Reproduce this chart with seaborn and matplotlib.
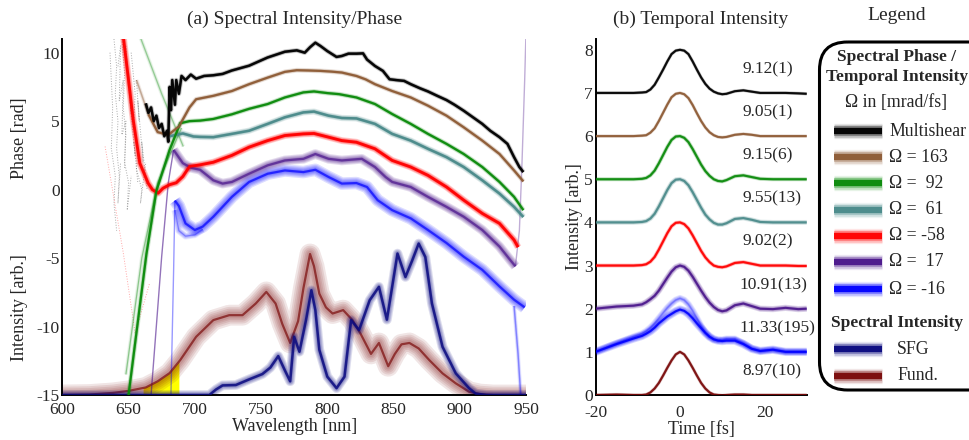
import numpy as np
import pandas as pd
import seaborn as sns
import matplotlib
matplotlib.use('Agg')
import matplotlib.pyplot as plt
from matplotlib.patches import FancyBboxPatch

sns.set_style('white')
plt.rcParams['font.family'] = ['Liberation Serif', 'DejaVu Serif']
plt.rcParams['axes.unicode_minus'] = False

# %% Spectral phase curves (wavelength [nm], phase [rad])
black_wl = [663, 665, 667, 669, 671, 673, 675, 677, 679, 680, 681, 682, 683, 685, 686, 688, 690,
            693, 697, 701, 707, 714, 721, 728, 741, 755, 768, 777, 783, 787, 791, 795, 800, 807,
            811, 816, 822, 827, 830, 836, 842, 847, 852, 858, 863, 870, 876, 883, 890, 896, 903,
            910, 917, 923, 930, 936, 941, 945, 948]
black_ph = [6.3, 5.6, 6.0, 5.0, 5.4, 4.5, 4.8, 3.9, 4.3, 3.5, 7.5, 5.8, 8.0, 6.2, 8.0, 7.0, 8.3,
            8.0, 8.4, 8.1, 8.3, 8.35, 8.45, 8.7, 9.05, 9.65, 10.07, 10.17, 10.0, 10.4, 10.73, 10.48,
            10.12, 9.69, 9.76, 9.93, 9.93, 9.95, 9.5, 9.03, 8.67, 8.06, 8.0, 7.94, 7.7, 7.4, 7.17,
            6.85, 6.54, 6.2, 5.76, 5.28, 4.8, 4.3, 3.83, 3.34, 2.37, 1.65, 1.28]

brown_wl = [665, 672, 680, 688, 696, 701, 714, 728, 741, 755, 768, 777, 786, 795, 803, 811,
            822, 829, 836, 849, 863, 876, 890, 903, 917, 930, 941, 948]
brown_ph = [5.5, 4.2, 4.0, 4.6, 6.0, 6.6, 6.85, 7.2, 7.7, 8.18, 8.6, 8.72, 8.7, 8.67, 8.62,
            8.55, 8.3, 8.05, 7.7, 7.2, 6.73, 6.13, 5.4, 4.55, 3.58, 2.6, 1.4, 0.6]
brown_faint_wl = [656, 665]
brown_faint_ph = [8.0, 5.5]

green_wl = [650, 663.5, 671, 681, 689, 696, 704, 714, 728, 741, 755, 768, 782, 790, 800, 809, 822,
            836, 849, 863, 876, 890, 903, 917, 930, 941, 948]
green_ph = [-15, -4.7, -0.1, 2.9, 4.85, 5.0, 5.04, 5.16, 5.5, 5.9, 6.25, 6.73, 7.1, 7.17, 7.05,
            6.97, 6.73, 6.25, 5.52, 4.8, 4.07, 3.34, 2.6, 1.65, 0.56, -0.53, -1.5]

teal_wl = [681, 691, 699, 704, 714, 728, 741, 755, 768, 782, 790, 801, 811, 822, 836, 849, 863,
           876, 890, 903, 917, 930, 941, 948]
teal_ph = [3.9, 4.1, 3.88, 3.85, 3.83, 4.07, 4.3, 4.8, 5.28, 5.64, 5.7, 5.4, 5.23, 5.2, 4.8, 4.07,
           3.58, 2.98, 2.37, 1.65, 0.68, -0.29, -1.26, -2.0]

red_wl = [645, 646, 650, 653.5, 658.5, 664.8, 668, 672.3, 676, 681, 686, 691, 696, 704, 714, 728,
          741, 755, 768, 782, 790, 801, 811, 822, 836, 849, 863, 876, 890, 903, 917, 930, 941, 944]
red_ph = [11.5, 11.2, 8.0, 5.1, 1.93, 0.47, 0.0, -0.26, 0.1, 0.36, 0.5, 0.96, 1.69, 1.81, 2.0, 2.5,
          3.1, 3.58, 3.95, 4.07, 4.1, 3.83, 3.58, 3.46, 2.98, 2.13, 1.65, 1.04, 0.19, -0.77, -1.74,
          -2.47, -3.68, -4.2]

purple_wl = [684, 691, 697, 704, 714, 721, 728, 741, 755, 768, 782, 791, 801, 811, 826, 836, 844,
             849, 863, 876, 890, 903, 917, 930, 938, 942]
purple_ph = [2.9, 1.93, 1.6, 1.45, 0.68, 0.44, 0.56, 1.16, 1.77, 2.13, 2.25, 2.6, 2.25, 2.13, 2.25,
             1.65, 0.92, 0.56, 0.19, -0.53, -1.26, -1.98, -2.95, -4.16, -5.13, -5.6]
purple_tail_wl = [942, 945, 947, 949, 950]
purple_tail_ph = [-5.6, -3.0, 2.0, 8.0, 11.5]

blue_wl = [685, 688, 693, 700, 706, 714, 728, 741, 755, 768, 782, 791, 801, 811, 822, 830, 838,
           849, 863, 876, 890, 903, 917, 930, 941, 949]
blue_ph = [-0.8, -1.2, -2.47, -2.95, -2.7, -1.98, -0.53, 0.56, 1.16, 1.4, 1.28, 1.45, 0.92, 0.44,
           0.48, 0.19, -0.77, -1.5, -2.1, -2.95, -3.9, -4.9, -5.86, -7.07, -8.04, -8.6]
blue_spread_wl = [685, 688, 693, 700, 706]
blue_spread_ph = [-1.5, -3.0, -3.4, -3.3, -2.9]

# faint extrapolated / noisy traces
steep_purple_wl = [667, 675, 680, 684]
steep_purple_ph = [-15, -4.9, 0.5, 2.9]
steep_blue_wl = [682, 684, 685]
steep_blue_ph = [-15, -6, -0.8]
tail_blue_wl = [941, 944, 946]
tail_blue_ph = [-8.5, -12, -15]
faint_green_wl = [648, 660, 672, 690]
faint_green_ph = [-13.5, -5, 0.5, 4.5]
faint_green2_wl = [658.6, 675, 691.3]
faint_green2_ph = [11.2, 7.0, 3.15]
faint_red_wl = [632.3, 646, 655, 666]
faint_red_ph = [3.15, -4.6, -10.5, -6.8]
noise_wl = [[639, 641, 640, 642, 641, 643, 642, 644],
            [645, 647, 646, 648, 647, 650, 649, 652],
            [652, 655, 654, 657, 656, 660, 659, 663],
            [636, 638, 637, 640, 639, 641],
            [642, 644, 643, 646, 645, 648, 647],
            [648, 650, 649, 652, 651, 655, 654, 657],
            [656, 658, 657, 661, 660, 664]]
noise_ph = [[11, 9, 7, 5, 3, 1, -1, 2],
            [11, 8.5, 6, 4, 2, 0.5, -1.5, 1],
            [10, 7, 5, 3, 1.5, 0, -1, 2],
            [10, 6, 3, 1, -1, -3],
            [9, 10.5, 6.5, 8, 4, 5, 1.5],
            [10.5, 7.5, 9, 5.5, 6.5, 2.5, 3.5, 0.5],
            [8, 5, 6.5, 2, 3.5, 0]]

# %% Spectral intensities (plotted on the same axis, baseline -15)
fund_wl = [600, 620, 638, 650, 663, 672, 681, 689, 701, 714, 726, 736, 746, 754, 761, 766, 772,
           778, 782, 787, 790, 794, 799, 804, 812, 819, 825, 833, 839, 846, 851, 856, 862, 869,
           877, 887, 897, 907, 915, 925, 950]
fund_int = [-15, -14.97, -14.85, -14.7, -14.45, -14.0, -13.4, -12.45, -10.75, -9.53, -9.17, -9.17,
            -8.32, -7.47, -8.32, -9.8, -11.2, -9.6, -7.2, -4.7, -5.6, -7.6, -8.6, -9.05, -8.8,
            -9.53, -10.5, -12.0, -11.2, -12.9, -12.0, -11.3, -11.2, -11.6, -12.45, -13.42, -14.15,
            -14.76, -14.93, -15, -15]
sfg_wl = [600, 705, 711, 716, 721, 731, 741, 751, 757, 763, 768, 772, 775, 779, 784, 788, 791,
          794, 800, 807, 813, 818, 824, 832, 839, 845, 853, 859, 864, 869, 874, 879, 887, 897,
          907, 912, 920, 950]
sfg_int = [-15, -15, -15, -14.6, -14.3, -14.27, -13.86, -13.47, -13.0, -12.16, -13.2, -14.0,
           -10.75, -11.84, -9.5, -7.35, -8.8, -11.7, -13.66, -14.5, -13.66, -9.53, -10.26, -8.08,
           -7.1, -9.5, -4.67, -6.38, -5.2, -3.94, -4.92, -8.32, -11.48, -13.42, -14.5, -14.9,
           -15, -15]
yellow_wl = [661, 672, 681, 688]
yellow_top = [-14.5, -14.0, -13.4, -12.55]

# %% Temporal intensities
t_fs = [-20, -15, -11, -9, -8, -7, -6, -5, -4, -3, -2, -1, 0, 1, 2, 3, 4, 5, 6, 7, 8, 9, 10, 11,
        13, 15, 17, 19, 22, 25, 28, 30]
prof_black = [0, 0, 0, 0.01, 0.02, 0.08, 0.19, 0.36, 0.54, 0.73, 0.9, 0.98, 1.0, 0.98, 0.9, 0.73,
              0.54, 0.36, 0.21, 0.1, 0.03, -0.01, -0.03, -0.02, 0.04, 0.06, 0.03, 0.0, 0.0, 0.0,
              -0.01, -0.02]
prof_brown = [0, 0, 0, 0.01, 0.02, 0.08, 0.18, 0.35, 0.54, 0.73, 0.9, 0.98, 1.0, 0.97, 0.88, 0.72,
              0.53, 0.35, 0.2, 0.09, 0.02, -0.02, -0.03, -0.02, 0.03, 0.05, 0.03, 0.0, 0.0, 0.0,
              0.0, 0.0]
prof_green = [0, 0, 0, 0.01, 0.03, 0.09, 0.2, 0.37, 0.56, 0.75, 0.91, 0.99, 1.0, 0.96, 0.86, 0.7,
              0.52, 0.34, 0.19, 0.08, 0.0, -0.04, -0.05, -0.02, 0.07, 0.09, 0.05, 0.01, 0.0, 0.0,
              0.0, 0.0]
prof_teal = [0, 0, 0, 0.01, 0.03, 0.09, 0.2, 0.37, 0.56, 0.75, 0.91, 0.99, 1.0, 0.96, 0.86, 0.7,
             0.52, 0.34, 0.18, 0.07, -0.01, -0.05, -0.05, -0.02, 0.08, 0.1, 0.06, 0.01, 0.0, 0.0,
             0.0, 0.0]
prof_red = [0, 0, 0, 0.01, 0.03, 0.09, 0.2, 0.37, 0.56, 0.75, 0.91, 0.99, 1.0, 0.96, 0.86, 0.7,
            0.52, 0.34, 0.19, 0.08, 0.0, -0.03, -0.04, -0.02, 0.06, 0.08, 0.04, 0.0, 0.0, 0.0,
            -0.01, -0.01]
prof_purple = [0, 0.05, 0.07, 0.1, 0.15, 0.22, 0.3, 0.42, 0.57, 0.72, 0.86, 0.96, 1.0, 0.97, 0.88,
               0.74, 0.58, 0.42, 0.27, 0.14, 0.04, -0.03, -0.06, -0.04, 0.08, 0.12, 0.06, 0.0,
               -0.01, 0.02, -0.01, 0.0]
prof_blue = [0, 0.18, 0.31, 0.37, 0.42, 0.48, 0.56, 0.66, 0.74, 0.82, 0.88, 0.94, 0.98, 0.95, 0.88,
             0.78, 0.66, 0.55, 0.44, 0.35, 0.29, 0.26, 0.25, 0.26, 0.26, 0.18, 0.07, 0.02, 0.05,
             0.0, 0.0, 0.0]
prof_blue_hi = [0, 0.2, 0.35, 0.42, 0.48, 0.56, 0.66, 0.78, 0.9, 1.02, 1.12, 1.2, 1.24, 1.2, 1.1,
                0.95, 0.78, 0.6, 0.45, 0.35, 0.29, 0.27, 0.28, 0.3, 0.3, 0.2, 0.08, 0.02, 0.05,
                0.0, 0.0, 0.0]
prof_fund = [0, 0.01, 0.0, 0.0, 0.01, 0.06, 0.15, 0.28, 0.45, 0.63, 0.8, 0.94, 1.0, 0.94, 0.8,
             0.63, 0.45, 0.28, 0.15, 0.06, 0.01, 0.0, -0.01, 0.0, 0.01, 0.01, 0.0, 0.0, 0.0, 0.0,
             0.0, 0.0]
offsets = [7, 6, 5, 4, 3, 2, 1, 0]
fwhm_labels = ["9.12(1)", "9.05(1)", "9.15(6)", "9.55(13)", "9.02(2)", "10.91(13)",
               "11.33(195)", "8.97(10)"]

legend_labels = ["Multishear", "Ω = 163", "Ω =  92", "Ω =  61", "Ω = -58", "Ω =  17", "Ω = -16"]

# Colour pallet
c_black, c_brown, c_green, c_teal = '#000000', '#8E5B35', '#0A8A0A', '#4A8A8A'
c_red, c_purple, c_blue = '#FF0000', '#4B168C', '#0000FF'
c_sfg, c_fund = '#0A0A80', '#7A0A0A'


def line(ax, x, y, color, lw, alpha, z=3, ls='-'):
    sns.lineplot(x=x, y=y, ax=ax, color=color, lw=lw, alpha=alpha, sort=False,
                 estimator=None, legend=False, zorder=z, solid_capstyle='butt', linestyle=ls)


def band(ax, x, y, color, core=1.8, halo=5.0, halo_alpha=0.25, core_alpha=0.95, z=3):
    # stacked translucent lines of shrinking width mimic the bundle of traces
    if halo > 0:
        for f in (1.0, 0.8, 0.62, 0.45, 0.3):
            line(ax, x, y, color, halo * f, halo_alpha * 0.3, z)
    if core > 0:
        line(ax, x, y, color, core, core_alpha, z + 0.1)


fig = plt.figure(figsize=(9.69, 4.40), dpi=100)
ax_a = fig.add_axes([62.3 / 969, 45 / 440, (526 - 62.3) / 969, 356 / 440])
ax_b = fig.add_axes([595.5 / 969, 45 / 440, (806.7 - 595.5) / 969, 356 / 440])
ax_l = fig.add_axes([804.3 / 969, 0, (969 - 804.3) / 969, 1])

# %% Panel (a)
for wl, ph in zip(noise_wl, noise_ph):
    line(ax_a, wl, ph, '#555555', 0.7, 0.5, z=1, ls=':')
line(ax_a, faint_red_wl, faint_red_ph, c_red, 0.7, 0.35, z=1, ls=':')
band(ax_a, faint_green_wl, faint_green_ph, c_green, core=0.8, halo=3, halo_alpha=0.15,
     core_alpha=0.35, z=1)
band(ax_a, faint_green2_wl, faint_green2_ph, c_green, core=0.8, halo=3, halo_alpha=0.15,
     core_alpha=0.3, z=1)
band(ax_a, brown_faint_wl, brown_faint_ph, c_brown, core=1.0, halo=3, halo_alpha=0.2,
     core_alpha=0.35, z=1)

ax_a.fill_between(yellow_wl, -15, yellow_top, color='#FFFF00', lw=0, zorder=2)
band(ax_a, fund_wl, fund_int, c_fund, core=1.6, halo=15, halo_alpha=0.35, core_alpha=0.7, z=2)
band(ax_a, sfg_wl, sfg_int, c_sfg, core=1.8, halo=7, halo_alpha=0.45, core_alpha=0.85, z=2.5)

line(ax_a, steep_purple_wl, steep_purple_ph, c_purple, 1.0, 0.6, z=2)
line(ax_a, steep_blue_wl, steep_blue_ph, c_blue, 1.0, 0.4, z=2)
band(ax_a, tail_blue_wl, tail_blue_ph, c_blue, core=1.0, halo=3, halo_alpha=0.2,
     core_alpha=0.3, z=2)
line(ax_a, purple_tail_wl, purple_tail_ph, c_purple, 1.0, 0.35, z=2)
band(ax_a, blue_spread_wl, blue_spread_ph, c_blue, core=0.8, halo=5, halo_alpha=0.25,
     core_alpha=0.3, z=2)

band(ax_a, blue_wl, blue_ph, c_blue, core=1.6, halo=9, halo_alpha=0.45, core_alpha=0.7)
band(ax_a, purple_wl, purple_ph, c_purple, core=1.6, halo=7, halo_alpha=0.5, core_alpha=0.7)
band(ax_a, red_wl, red_ph, c_red, core=2.0, halo=5, halo_alpha=0.6)
band(ax_a, teal_wl, teal_ph, c_teal, core=1.8, halo=4.5, halo_alpha=0.5)
band(ax_a, green_wl, green_ph, c_green, core=1.6, halo=3.5, halo_alpha=0.45)
band(ax_a, brown_wl, brown_ph, c_brown, core=1.6, halo=3.5, halo_alpha=0.45)
band(ax_a, black_wl, black_ph, c_black, core=1.8, halo=3.5, halo_alpha=0.45)

ax_a.set_xlim(600, 950)
ax_a.set_ylim(-15, 11)
ax_a.set_xticks([600, 650, 700, 750, 800, 850, 900, 950])
ax_a.set_yticks([10, 5, 0, -5, -10, -15])
ax_a.set_xlabel("Wavelength [nm]", fontsize=13, labelpad=0)
ax_a.set_ylabel("")
ax_a.set_title("(a) Spectral Intensity/Phase", fontsize=14, pad=11)
fig.text(19.6 / 969, 1 - 138 / 440, "Phase [rad]", rotation=90, ha='center', va='center',
         fontsize=13)
fig.text(19.6 / 969, 1 - 308 / 440, "Intensity [arb.]", rotation=90, ha='center', va='center',
         fontsize=13)

# %% Panel (b)
profiles = [prof_black, prof_brown, prof_green, prof_teal, prof_red, prof_purple, prof_blue,
            prof_fund]
t_colors = [c_black, c_brown, c_green, c_teal, c_red, c_purple, c_blue, c_fund]
t_halo = [2.5, 2.5, 3, 3.5, 3, 4.5, 6, 2.5]
for prof, off, col, hw, lab in zip(profiles, offsets, t_colors, t_halo, fwhm_labels):
    y = np.array(prof) + off
    band(ax_b, t_fs, y, col, core=1.5, halo=hw, halo_alpha=0.5, core_alpha=0.9)
    x_txt = 14.0 if len(lab) > 8 else 14.8
    ax_b.text(x_txt, off + 0.55, lab, fontsize=12.5, ha='left', va='center')
# upper edge of the spread of the Ω = -16 retrievals
band(ax_b, t_fs, np.array(prof_blue_hi) + 1, c_blue, core=1.0, halo=5, halo_alpha=0.3,
     core_alpha=0.25)

ax_b.set_xlim(-20, 30)
ax_b.set_ylim(0, 8.25)
ax_b.set_xticks([-20, 0, 20])
ax_b.set_yticks(range(0, 9))
ax_b.set_xlabel("Time [fs]", fontsize=13, labelpad=0)
ax_b.set_ylabel("Intensity [arb.]", fontsize=13, labelpad=1)
ax_b.set_title("(b) Temporal Intensity", fontsize=14, pad=11)

for ax in (ax_a, ax_b):
    sns.despine(ax=ax)
    for s in ('left', 'bottom'):
        ax.spines[s].set_color('black')
        ax.spines[s].set_linewidth(1.4)
    ax.tick_params(length=0, labelsize=12.5, pad=2)
    ax.tick_params(axis='x', pad=5)
ax_b.tick_params(axis='x', pad=7)

# %% Legend panel (pixel coordinates)
ax_l.set_xlim(804.3, 969)
ax_l.set_ylim(440, 0)
ax_l.axis('off')
ax_l.text(897, 16, "Legend", fontsize=14, ha='center', va='center')
ax_l.add_patch(FancyBboxPatch((819.5, 42), 190, 348, boxstyle='round,pad=0,rounding_size=28',
                              fill=False, lw=2.2, ec='black', clip_on=False))
ax_l.text(897, 57, "Spectral Phase /", fontsize=12.5, fontweight='bold', ha='center',
          va='center')
ax_l.text(897, 77, "Temporal Intensity", fontsize=12.5, fontweight='bold', ha='center',
          va='center')
ax_l.text(896, 102, "Ω in [mrad/fs]", fontsize=12.8, ha='center', va='center')

entry_y = [131, 157, 183, 210, 236, 262, 289]
entry_c = [c_black, c_brown, c_green, c_teal, c_red, c_purple, c_blue]


def handle(y, col):
    for lw, a in [(11, 0.1), (9, 0.18), (7, 0.35), (4.5, 0.95)]:
        ax_l.plot([834, 882], [y, y], color=col, lw=lw, alpha=a, solid_capstyle='butt')


for y, col, lab in zip(entry_y, entry_c, legend_labels):
    handle(y, col)
    ax_l.text(889, y, lab, fontsize=12.8, ha='left', va='center')

ax_l.text(897, 323, "Spectral Intensity", fontsize=12.5, fontweight='bold', ha='center',
          va='center')
handle(349, c_sfg)
ax_l.text(897, 349, "SFG", fontsize=12.8, ha='left', va='center')
handle(376, c_fund)
ax_l.text(897, 376, "Fund.", fontsize=12.8, ha='left', va='center')

fig.savefig('out.png', dpi=100)
